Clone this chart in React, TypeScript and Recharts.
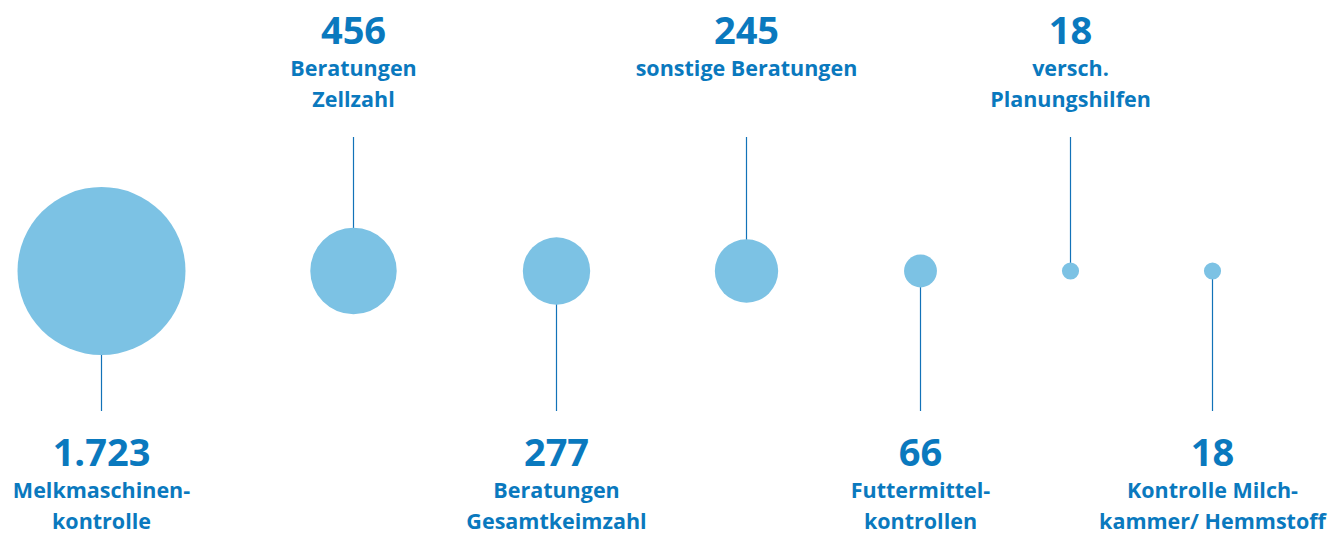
import React from 'react'
import { ScatterChart, Scatter, XAxis, YAxis, ZAxis, ReferenceLine } from 'recharts'

// Anzahl der Beratungen / Kontrollen
const values = [1723, 456, 277, 245, 66, 18, 18]
const valueLabels = ['1.723', '456', '277', '245', '66', '18', '18']
const categories = [
  ['Melkmaschinen-', 'kontrolle'],
  ['Beratungen', 'Zellzahl'],
  ['Beratungen', 'Gesamtkeimzahl'],
  ['sonstige Beratungen'],
  ['Futtermittel-', 'kontrollen'],
  ['versch.', 'Planungshilfen'],
  ['Kontrolle Milch-', 'kammer/ Hemmstoff'],
]
const sides = ['down', 'up', 'down', 'up', 'down', 'up', 'down']

// layout: horizontal slot of each bubble on a 0..1343 axis
const xSlots = [101, 353, 556, 746, 920, 1070, 1212]
const CENTER_Y = 271
const UP_END = 137
const DOWN_END = 411
const MAX_R = 84

const BUBBLE = '#7cc2e4'
const INK = '#0a79be'
const LINE = '#1272b8'
const FONT = '"Open Sans", "Noto Sans", sans-serif'

const points = values.map((v, i) => ({ x: xSlots[i] + 0.5, y: CENTER_Y, z: v }))

function SegLabel(props: any) {
  const { viewBox, idx } = props
  if (!viewBox) return null
  const cx = viewBox.x + (viewBox.width || 0) / 2
  const up = sides[idx] === 'up'
  const lines = categories[idx]
  const numY = up ? viewBox.y - 93 : viewBox.y + viewBox.height + 55
  return (
    <g>
      <text x={cx} y={numY} textAnchor="middle" fill={INK} fontFamily={FONT} fontWeight={700} fontSize={38}>
        {valueLabels[idx]}
      </text>
      {lines.map((t, j) => (
        <text
          key={j}
          x={cx}
          y={numY + 32 + j * 31}
          textAnchor="middle"
          fill={INK}
          fontFamily={FONT}
          fontWeight={700}
          fontSize={21.5}
        >
          {t}
        </text>
      ))}
    </g>
  )
}

export default function App() {
  return (
    <div style={{ position: 'absolute', left: 0, top: 0, background: '#fff' }}>
      <ScatterChart width={1343} height={537} margin={{ top: 0, right: 0, bottom: 0, left: 0 }}>
        <XAxis type="number" dataKey="x" domain={[0, 1343]} hide />
        <YAxis type="number" dataKey="y" domain={[0, 537]} reversed hide />
        <ZAxis type="number" dataKey="z" domain={[0, 1723]} range={[0, Math.PI * MAX_R * MAX_R]} />
        {points.map((p, i) => (
          <ReferenceLine
            key={i}
            segment={[
              { x: p.x, y: CENTER_Y },
              { x: p.x, y: sides[i] === 'up' ? UP_END : DOWN_END },
            ]}
            stroke={LINE}
            strokeWidth={1.2}
            label={<SegLabel idx={i} />}
          />
        ))}
        <Scatter data={points} fill={BUBBLE} isAnimationActive={false} />
      </ScatterChart>
    </div>
  )
}
